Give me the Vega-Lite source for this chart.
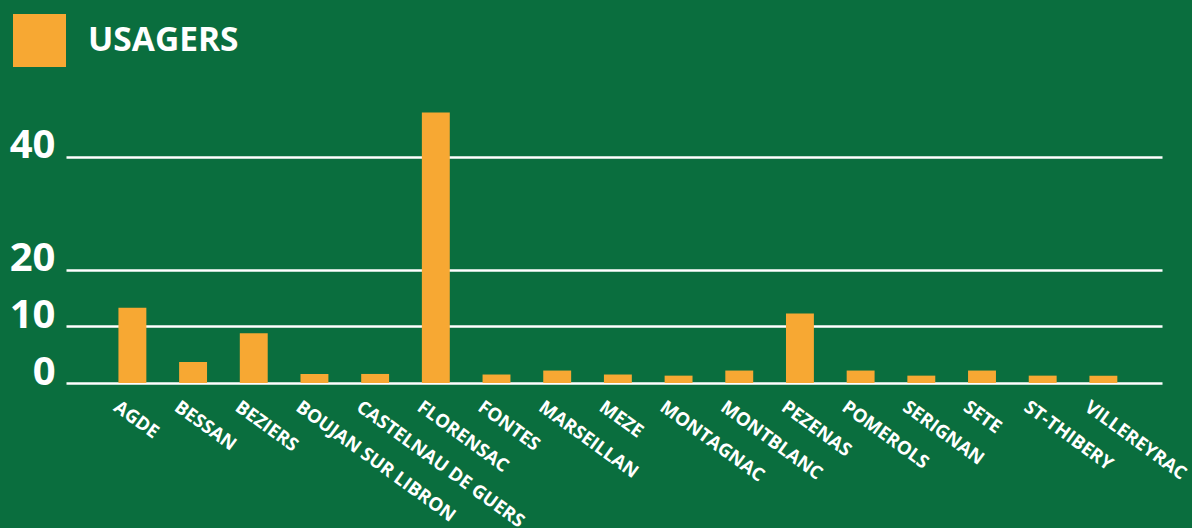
{
  "$schema": "https://vega.github.io/schema/vega-lite/v6.json",
  "autosize": "none",
  "width": 1096,
  "height": 283,
  "padding": {"left": 66, "top": 100, "right": 30, "bottom": 145},
  "background": "#0a6e3e",
  "config": {
    "view": {"stroke": null},
    "font": "Open Sans"
  },
  "data": {
    "values": [
      {"commune": "AGDE", "usagers": 13.3, "serie": "USAGERS"},
      {"commune": "BESSAN", "usagers": 3.7, "serie": "USAGERS"},
      {"commune": "BEZIERS", "usagers": 8.8, "serie": "USAGERS"},
      {"commune": "BOUJAN SUR LIBRON", "usagers": 1.6, "serie": "USAGERS"},
      {"commune": "CASTELNAU DE GUERS", "usagers": 1.6, "serie": "USAGERS"},
      {"commune": "FLORENSAC", "usagers": 47.8, "serie": "USAGERS"},
      {"commune": "FONTES", "usagers": 1.5, "serie": "USAGERS"},
      {"commune": "MARSEILLAN", "usagers": 2.2, "serie": "USAGERS"},
      {"commune": "MEZE", "usagers": 1.5, "serie": "USAGERS"},
      {"commune": "MONTAGNAC", "usagers": 1.3, "serie": "USAGERS"},
      {"commune": "MONTBLANC", "usagers": 2.2, "serie": "USAGERS"},
      {"commune": "PEZENAS", "usagers": 12.3, "serie": "USAGERS"},
      {"commune": "POMEROLS", "usagers": 2.2, "serie": "USAGERS"},
      {"commune": "SERIGNAN", "usagers": 1.3, "serie": "USAGERS"},
      {"commune": "SETE", "usagers": 2.2, "serie": "USAGERS"},
      {"commune": "ST-THIBERY", "usagers": 1.3, "serie": "USAGERS"},
      {"commune": "VILLEREYRAC", "usagers": 1.3, "serie": "USAGERS"}
    ]
  },
  "mark": {"type": "bar"},
  "encoding": {
    "x": {
      "field": "commune",
      "type": "nominal",
      "sort": null,
      "scale": {"paddingInner": 0.54, "paddingOuter": 0.8, "align": 0.54},
      "axis": {
        "title": null,
        "ticks": false,
        "domain": false,
        "grid": false,
        "labelAngle": 36,
        "labelAlign": "left",
        "labelBaseline": "top",
        "labelPadding": 14,
        "labelOffset": -11,
        "labelFont": "Open Sans",
        "labelFontWeight": "bold",
        "labelFontSize": 18.5,
        "labelColor": "#ffffff",
        "labelOverlap": false,
        "labelLimit": 400,
        "labelBound": false
      }
    },
    "y": {
      "field": "usagers",
      "type": "quantitative",
      "scale": {"domain": [0, 50], "nice": false},
      "axis": {
        "title": null,
        "values": [0, 10, 20, 40],
        "ticks": false,
        "domain": false,
        "grid": true,
        "gridColor": "#ffffff",
        "gridWidth": 2.5,
        "gridOpacity": 1,
        "labelFont": "Open Sans",
        "labelFontWeight": "bold",
        "labelFontSize": 40,
        "labelColor": "#ffffff",
        "labelPadding": 11,
        "labelBaseline": "alphabetic",
        "labelOffset": 1
      }
    },
    "color": {
      "field": "serie",
      "type": "nominal",
      "scale": {"range": ["#f7a833"]},
      "legend": {
        "title": null,
        "orient": "none",
        "legendX": -53,
        "legendY": -86,
        "padding": 0,
        "symbolType": "square",
        "symbolSize": 2809,
        "symbolStrokeWidth": 0,
        "symbolOpacity": 1,
        "labelFont": "Open Sans",
        "labelFontWeight": "bold",
        "labelFontSize": 33.5,
        "labelColor": "#ffffff",
        "labelOffset": 22
      }
    }
  }
}
